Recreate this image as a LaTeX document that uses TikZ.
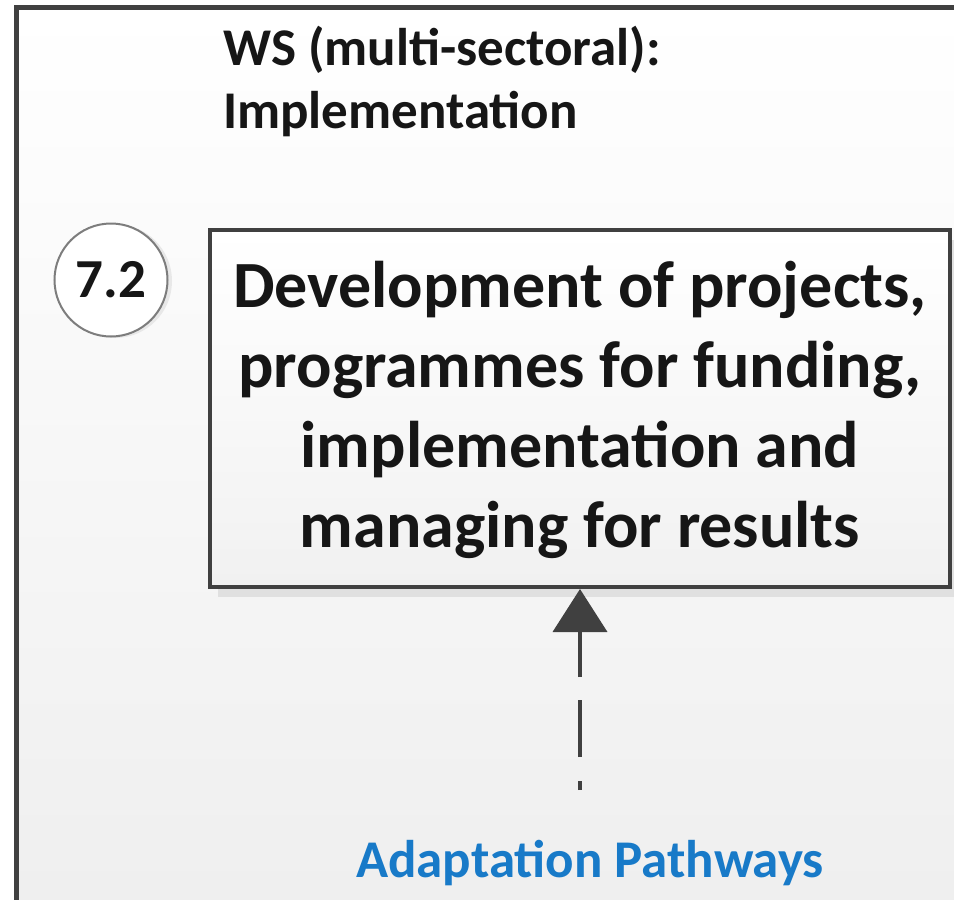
\documentclass[tikz,border=0pt]{standalone}
\usepackage{fontspec}
\setmainfont{Carlito}
\usetikzlibrary{arrows.meta,shadows}
\definecolor{darkline}{RGB}{64,64,64}
\definecolor{txt}{RGB}{22,22,22}
\definecolor{apblue}{RGB}{24,122,200}
\definecolor{circline}{RGB}{125,125,125}
\tikzset{
  framebg/.style={top color=white, bottom color=gray!13, draw=none},
  frameline/.style={draw=darkline, line width=5pt},
  mainbox/.style={draw=darkline, line width=4pt, top color=white, bottom color=gray!11,
    minimum width=740pt, minimum height=357pt, inner sep=0pt},
  boxtext/.style={align=center, inner sep=0pt, text=txt,
    font=\bfseries\fontsize{66}{80}\selectfont},
  boxshadow/.style={fill=gray!24, draw=none},
  stepcircle/.style={circle, draw=circline, line width=2pt, fill=white,
    minimum size=113pt, inner sep=0pt, text=txt, font=\bfseries\fontsize{55}{60}\selectfont},
  headtext/.style={text=txt, align=left, inner sep=0pt, font=\bfseries\fontsize{53}{63}\selectfont},
  bluetext/.style={text=apblue, inner sep=0pt, font=\bfseries\fontsize{53}{63}\selectfont},
  inarrow/.style={draw=darkline, line width=4pt, -{Triangle[width=54pt,length=43pt]},
    dash pattern=on 9pt off 24pt on 57pt off 23pt on 400pt}
}
\begin{document}
\begin{tikzpicture}[x=1pt,y=-1pt]
\useasboundingbox (0,0) rectangle (954,900);
% outer frame background and border
\fill[framebg] (16.5,7.5) rectangle (980,930);
\draw[frameline] (16.5,930) -- (16.5,7.5) -- (980,7.5);
% heading
\node[headtext, anchor=base west] (head) at (223,128) {WS (multi-sectoral):\\Implementation};
% main box shadow and box
\fill[boxshadow] (218,240) rectangle (960,597);
\node[mainbox] (box) at (580,408.5) {};
\node[boxtext, anchor=base] (boxlabel) at (580,547) {Development of projects,\\programmes for funding,\\implementation and\\managing for results};
% step circle
\fill[gray!18] (115,281) circle (57pt);
\node[stepcircle] (num) at (111,280) {7.2};
% arrow from adaptation pathways
\coordinate (apstart) at (580,790);
\draw[inarrow] (apstart) -- (box.south);
\node[bluetext, anchor=base] (ap) at (590,877) {Adaptation Pathways};
\end{tikzpicture}
\end{document}
